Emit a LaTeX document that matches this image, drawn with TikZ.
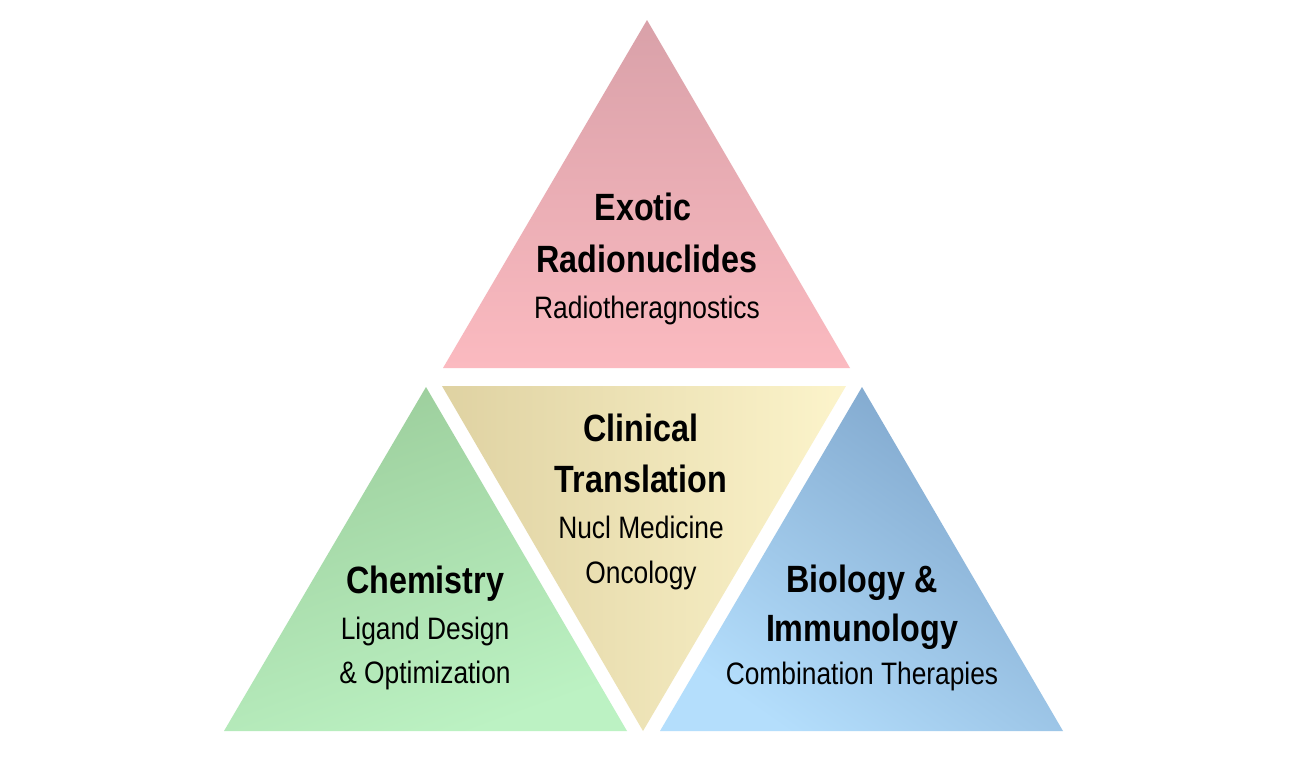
\documentclass[tikz,border=0pt]{standalone}
\usepackage{fontspec}
\setmainfont{Liberation Sans}[FakeStretch=0.85]
\begin{document}
\begin{tikzpicture}[x=1pt,y=-1pt,
  head/.style={font=\fontsize{38}{40}\selectfont\bfseries, anchor=base, inner sep=0pt},
  sub/.style={font=\fontsize{31}{33}\selectfont, anchor=base, inner sep=0pt}]
\definecolor{rosetop}{HTML}{D9A1A9}
\definecolor{rosebot}{HTML}{FBBAC0}
\definecolor{greentop}{HTML}{9CCE9C}
\definecolor{greenbot}{HTML}{BCF2C3}
\definecolor{khakil}{HTML}{DFD2A2}
\definecolor{khakir}{HTML}{FCF4CB}
\definecolor{bluedark}{HTML}{7EA5CB}
\definecolor{bluelight}{HTML}{B4DEFC}
\useasboundingbox (0,0) rectangle (1300,756);
\fill[white] (0,0) rectangle (1300,756);
% top triangle
\coordinate (tA) at (647,20);
\coordinate (tL) at (443,368);
\coordinate (tR) at (850,368);
\shade[top color=rosetop, bottom color=rosebot] (tA) -- (tR) -- (tL) -- cycle;
% middle inverted triangle
\coordinate (mL) at (442,386);
\coordinate (mR) at (846,386);
\coordinate (mB) at (643,731);
\shade[left color=khakil, right color=khakir] (mL) -- (mR) -- (mB) -- cycle;
% left triangle
\coordinate (lA) at (426,387);
\coordinate (lL) at (224,731);
\coordinate (lR) at (627,731);
\shade[top color=greentop, bottom color=greenbot, shading angle=20] (lA) -- (lR) -- (lL) -- cycle;
% right triangle
\coordinate (rA) at (862,387);
\coordinate (rL) at (660,731);
\coordinate (rR) at (1063,731);
\shade[top color=bluedark, bottom color=bluelight, middle color=bluedark!50!bluelight, shading angle=-35] (rA) -- (rR) -- (rL) -- cycle;
% texts
\node[head] (t1) at (643,220) {Exotic};
\node[head] (t2) at (647,272) {Radionuclides};
\node[sub]  (t3) at (647,318) {Radiotheragnostics};
\node[head] (m1) at (641,441) {Clinical};
\node[head] (m2) at (641,492) {Translation};
\node[sub]  (m3) at (641,538) {Nucl Medicine};
\node[sub]  (m4) at (641,583) {Oncology};
\node[head] (l1) at (425,593) {Chemistry};
\node[sub]  (l2) at (425,639) {Ligand Design};
\node[sub]  (l3) at (425,683) {\& Optimization};
\node[head] (r1) at (862,592) {Biology \&};
\node[head] (r2) at (862,641) {Immunology};
\node[sub]  (r3) at (862,684) {Combination Therapies};
\end{tikzpicture}
\end{document}
